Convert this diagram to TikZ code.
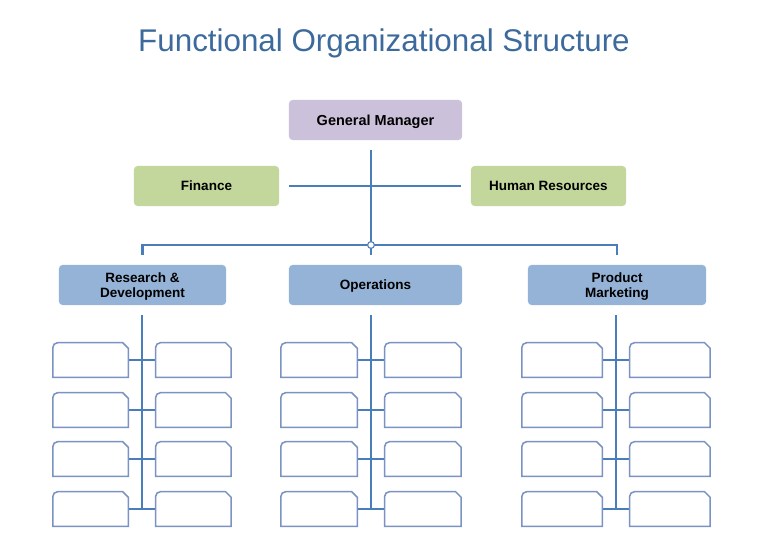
\documentclass[tikz,border=0pt]{standalone}
\usepackage{fontspec}
\setmainfont{Liberation Sans}
\usetikzlibrary{positioning}
\definecolor{titleblue}{HTML}{3D6A9C}
\definecolor{lineblue}{HTML}{4A7EBB}
\definecolor{boxedge}{HTML}{7A93C2}
\definecolor{mgrfill}{HTML}{CCC1DA}
\definecolor{stafffill}{HTML}{C3D69B}
\definecolor{deptfill}{HTML}{95B3D7}

\begin{document}
\begin{tikzpicture}[x=0.025cm,y=-0.025cm,
	main node/.style={rounded corners=2.5pt,inner sep=0pt,minimum height=1cm,align=center,text depth=0pt,
		font=\bfseries\fontsize{9.6}{10.6}\selectfont},
	conn/.style={draw=lineblue,line width=2pt,shorten <=0.25cm,shorten >=0.25cm},
	sub node/.style={inner sep=0pt,minimum height=0.85cm},
	sub line/.style={draw=boxedge,line width=1.1pt}]
	
	\useasboundingbox (0,0) rectangle (768,558);
	
	\node[anchor=base,text=titleblue,font=\fontsize{22.3}{26}\selectfont] (title) at (384,52) {Functional Organizational Structure};
	
	\node[main node,fill=mgrfill,minimum width=4.325cm,font=\bfseries\fontsize{10.3}{12}\selectfont] (gm) at (375.5,120) {General Manager};
	\node[main node,fill=stafffill,minimum width=3.625cm] (fin) at (206.5,186) {Finance};
	\node[main node,fill=stafffill,minimum width=3.875cm] (hr) at (548.5,186) {Human Resources};
	\node[main node,fill=deptfill,minimum width=4.175cm] (rd) at (142.5,285) {Research \&\\Development};
	\node[main node,fill=deptfill,minimum width=4.325cm] (ops) at (375.5,285) {Operations};
	\node[main node,fill=deptfill,minimum width=4.45cm] (pm) at (617,285) {Product\\Marketing};
	\coordinate (hub) at (371,245);
	
	\draw[conn] (gm.south -| hub) -- (ops.north -| hub);
	\draw[conn] (fin) -- (hr);
	\draw[conn] (rd.north) |- (hub) -| (pm.north);
	\node[circle,draw=lineblue,fill=white,line width=0.8pt,inner sep=0pt,minimum size=0.17cm] (hubdot) at (hub) {};
	
	\foreach \c/\sx/\w in {rd/142/1.875cm,ops/371/1.9cm,pm/616/2cm}{
		\foreach \r/\y in {1/360,2/410,3/459,4/509}
			\coordinate (\c s\r) at (\sx,\y);
		\draw[conn,shorten >=0pt] (\c.south -| \c s1) -- (\c s4);
		\foreach \r in {1,...,4}{
			\node[sub node,minimum width=\w,left=0.34cm of \c s\r] (\c\r l) {};
			\node[sub node,minimum width=\w,right=0.34cm of \c s\r] (\c\r r) {};
			\draw[conn,shorten <=0pt,shorten >=0pt] (\c\r l.east) -- (\c\r r.west);
			\foreach \n in {l,r}
				\draw[sub line] (\c\r\n.south west) [rounded corners=0.12cm]-- (\c\r\n.north west)
					[sharp corners]-- ([xshift=-0.14cm]\c\r\n.north east) -- ([yshift=-0.14cm]\c\r\n.north east)
					-- (\c\r\n.south east) -- cycle;
		}
	}
\end{tikzpicture}
\end{document}
